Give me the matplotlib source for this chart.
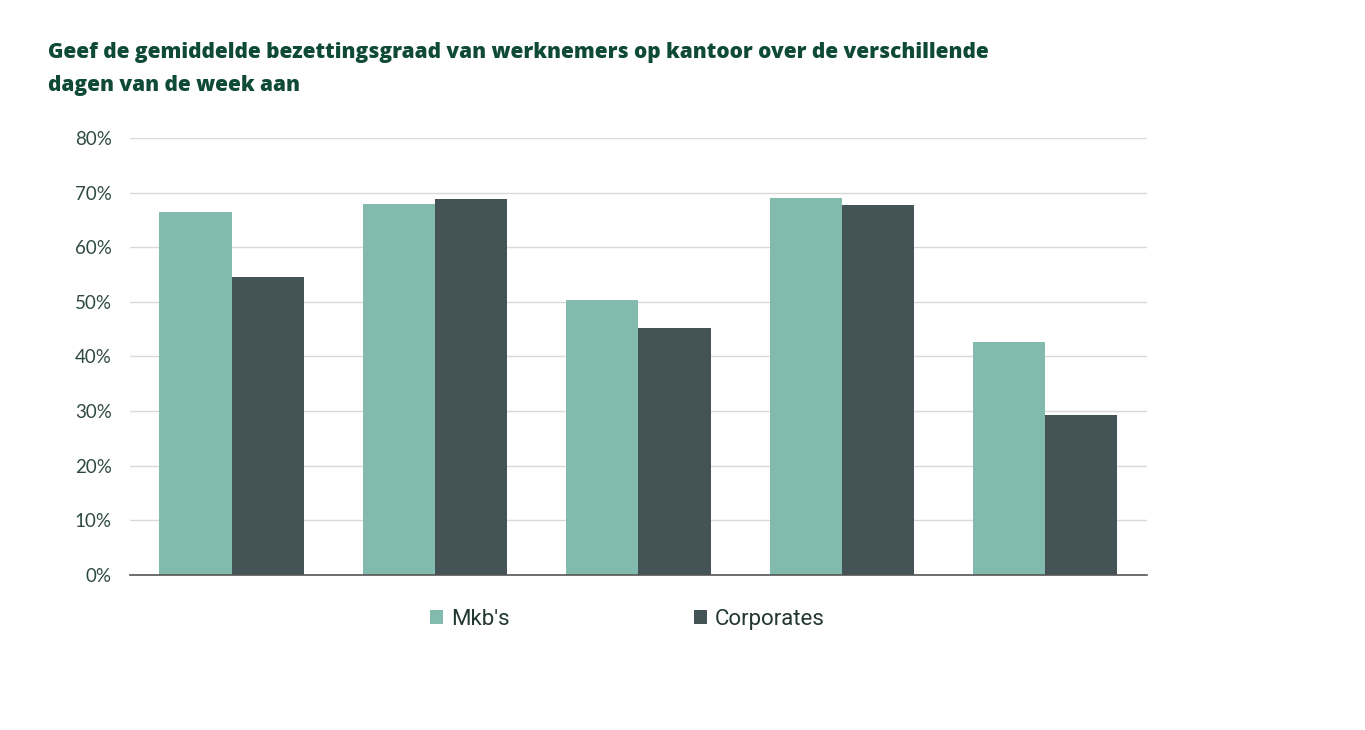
import numpy as np
import matplotlib
matplotlib.use("Agg")
import matplotlib.pyplot as plt
from matplotlib.ticker import PercentFormatter

# data (no day labels shown in the original)
groups = ["1", "2", "3", "4", "5"]
mkb = [66.5, 68.0, 50.4, 69.1, 42.6]
corporates = [54.5, 68.9, 45.2, 67.7, 29.3]
series_names = ["Mkb's", "Corporates"]

light = "#82bbae"
dark = "#435356"
title_color = "#0e4a36"
tick_color = "#2f4a42"

plt.rcParams["font.family"] = ["Lato", "DejaVu Sans"]

fig = plt.figure(figsize=(13.65, 7.3), dpi=100)
ax = fig.add_axes([0.0952, 0.2123, 0.745, 0.5987])

x = np.arange(len(groups))
w = 0.355
ax.bar(x - w / 2, mkb, w, color=light, label=series_names[0], zorder=3)
ax.bar(x + w / 2, corporates, w, color=dark, label=series_names[1], zorder=3)

ax.set_xlim(-0.5, len(groups) - 0.5)
ax.set_ylim(0, 80)
ax.set_yticks(np.arange(0, 81, 10))
ax.yaxis.set_major_formatter(PercentFormatter(decimals=0))
ax.set_xticks([])
ax.grid(axis="y", color="#d9d9d9", linewidth=1, zorder=0)
for s in ["top", "right", "left"]:
    ax.spines[s].set_visible(False)
ax.spines["bottom"].set_color("#555555")
ax.spines["bottom"].set_linewidth(1.2)
ax.spines["bottom"].set_zorder(4)
ax.tick_params(axis="y", length=0, pad=13, labelsize=13.5, labelcolor=tick_color)

title_font = ["Open Sans", "DejaVu Sans"]
fig.text(0.035, 0.928, "Geef de gemiddelde bezettingsgraad van werknemers op kantoor over de verschillende",
         fontsize=15.05, fontweight=800, color=title_color, va="center", family=title_font)
fig.text(0.035, 0.883, "dagen van de week aan",
         fontsize=15.05, fontweight=800, color=title_color, va="center", family=title_font)

leg = fig.legend(loc="center", bbox_to_anchor=(0.4597, 0.152), ncol=2, frameon=False,
                 prop={"family": ["Roboto", "DejaVu Sans"], "size": 16},
                 handlelength=0.6, handleheight=0.6, handletextpad=0.35,
                 columnspacing=8.3, labelcolor="#23392f")

fig.savefig("out.png", dpi=100, facecolor="white")
